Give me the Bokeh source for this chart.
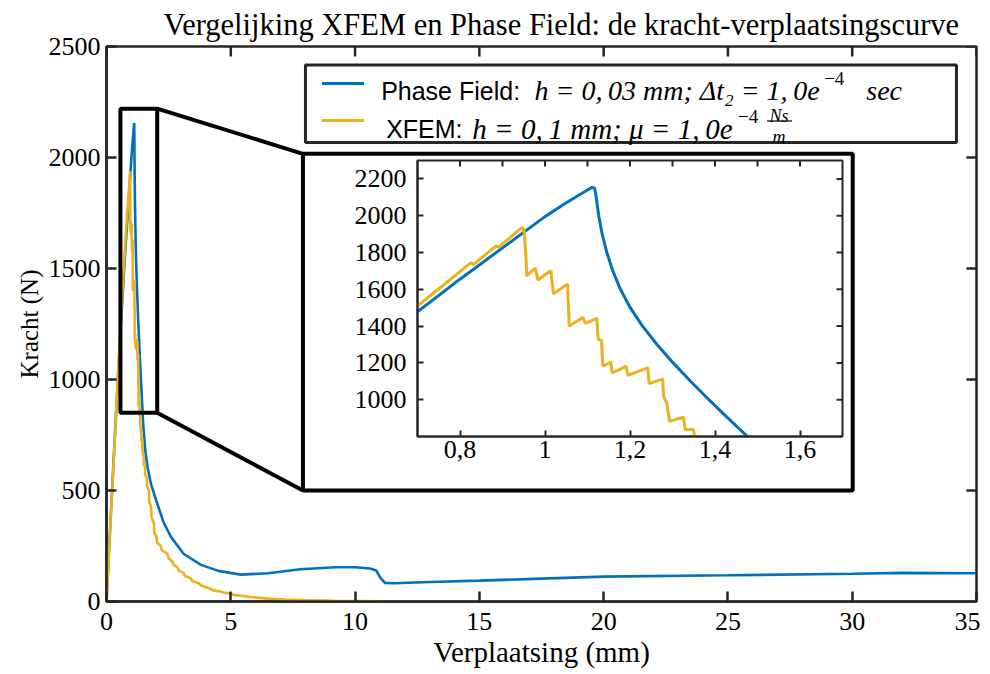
from bokeh.plotting import figure
from bokeh.models import Range1d, FixedTicker, Label, BoxAnnotation, Column
from bokeh.embed import file_html
from bokeh.resources import INLINE

# ---------------- data ----------------
pf_x = [0.0, 0.2, 0.4, 0.55, 0.7, 0.8, 0.9, 1.0, 1.05, 1.1, 1.112, 1.117, 1.1205, 1.1265,
        1.1345, 1.1455, 1.1595, 1.1775, 1.2005, 1.2295, 1.2635, 1.3015, 1.3425, 1.3855,
        1.4305, 1.4765, 1.55, 1.65, 1.8, 2.0, 2.3, 2.6, 3.1, 3.8, 4.5, 5.4, 6.5, 7.8, 9.2,
        10.0, 10.6, 10.85, 11.0, 11.2, 11.6, 13.0, 15.0, 17.5, 20.0, 25.0, 30.0, 32.0, 35.0]
pf_y = [0, 450, 880, 1190, 1478, 1655, 1825, 1995, 2070, 2140, 2155, 2148, 2100, 2000,
        1900, 1800, 1700, 1600, 1500, 1400, 1300, 1200, 1100, 1000,
        900, 800, 690, 605, 525, 455, 355, 290, 215, 165, 138, 121, 127, 145, 154,
        154, 149, 140, 110, 84, 82, 88, 94, 103, 112, 118, 125, 129, 127]

xf_x = [0.0, 0.2, 0.4, 0.55, 0.698, 0.826, 0.831, 0.885, 0.891, 0.947, 0.951, 0.955, 0.957,
        0.977, 0.983, 1.014, 1.016, 1.020, 1.053, 1.057, 1.089, 1.095, 1.122, 1.125, 1.133,
        1.136, 1.155, 1.158, 1.191, 1.195, 1.242, 1.245, 1.277, 1.279, 1.287, 1.293, 1.326,
        1.330, 1.349, 1.352, 1.40, 1.405, 1.44, 1.445, 1.50, 1.505, 1.55, 1.555, 1.62, 1.63,
        1.71, 1.72, 1.80, 1.81, 1.91, 1.92, 2.0, 2.05, 2.18, 2.22, 2.45, 2.5, 2.65, 2.7,
        2.85, 2.9, 3.1, 3.15, 3.39, 3.45, 3.7, 3.8, 4.19, 4.3, 4.6, 4.7, 5.0, 5.1, 5.8,
        6.5, 7.15, 8.0, 9.2, 11.0, 13.0, 35.0]
xf_y = [0, 440, 890, 1210, 1505, 1745, 1733, 1836, 1829, 1938, 1915, 1787, 1673,
        1715, 1651, 1702, 1651, 1575, 1629, 1400, 1447, 1415, 1442, 1327, 1324,
        1182, 1205, 1145, 1182, 1133, 1173, 1087, 1113, 1018, 978, 882, 905,
        836, 840, 800, 760, 720, 735, 680, 650, 610, 620, 570, 560, 520,
        500, 455, 420, 380, 350, 310, 295, 262, 250, 232, 215, 195, 180, 165,
        155, 140, 128, 115, 105, 92, 82, 72, 57, 50, 45, 40, 36, 30, 20,
        13, 9, 6, 3, 1, 0, 0]

main_x_ticks = [0, 5, 10, 15, 20, 25, 30, 35]
main_y_ticks = [0, 500, 1000, 1500, 2000, 2500]
inset_x_ticks = [0.8, 1, 1.2, 1.4, 1.6]
inset_x_labels = ["0,8", "1", "1,2", "1,4", "1,6"]
inset_x_top_ticks = [0.8, 0.9, 1, 1.1, 1.2, 1.3, 1.4, 1.5, 1.6]
inset_y_ticks = [1000, 1200, 1400, 1600, 1800, 2000, 2200]

main_xr = (0, 35)
main_yr = (0, 2500)
inset_xr = (0.7, 1.7)
inset_yr = (800, 2300)
zoom_x = (0.56, 2.04)
zoom_y = (850, 2220)

TITLE = "Vergelijking XFEM en Phase Field: de kracht-verplaatsingscurve"
LEG1_A = "Phase Field:"
LEG1_B = "h = 0,\u200903 mm; \u0394t\u2082 = 1,\u20090e"
LEG1_C = "sec"
LEG2_A = "XFEM:"
LEG2_B = "h = 0,\u20091 mm; \u03bc = 1,\u20090e"
SUP = "\u22124"
FRAC_NUM = "Ns"
FRAC_DEN = "m"

BLUE = "#0072BD"
YELLOW = "#EDB120"
AX = "#262626"
SERIF = "Liberation Serif"
SANS = "Liberation Sans"

# ---------------- main figure ----------------
FL, FT, FW, FH = 106, 46, 868, 555   # intended frame position/size on the page
FW_SET = 875                          # value handed to Bokeh (renders ~FW wide)
FB = 70
p = figure(x_range=Range1d(*main_xr), y_range=Range1d(*main_yr),
           frame_width=FW_SET, frame_height=FH,
           min_border_left=FL, min_border_right=4, min_border_top=FT, min_border_bottom=FB,
           output_backend="svg", toolbar_location=None, title=TITLE)
p.title.align = "left"
p.title.offset = 57
p.title.text_font = SERIF
p.title.text_font_size = "30.5px"
p.title.text_font_style = "normal"
p.title.text_color = "#000000"
p.title.standoff = 10
p.grid.visible = False
p.outline_line_color = AX
p.outline_line_width = 2.5
p.background_fill_color = "white"
p.border_fill_color = "white"
p.margin = (0, 0, 0, -5)


def style_axis(ax, ticks, size, tick_len, lw):
    ax.ticker = FixedTicker(ticks=ticks)
    ax.axis_line_color = AX
    ax.axis_line_width = lw
    ax.major_tick_line_color = AX
    ax.major_tick_line_width = lw
    ax.major_tick_in = tick_len
    ax.major_tick_out = 0
    ax.minor_tick_line_color = None
    ax.major_label_text_font = SERIF
    ax.major_label_text_color = "#000000"
    ax.major_label_text_font_size = size


style_axis(p.xaxis[0], main_x_ticks, "26px", 10, 2.5)
style_axis(p.yaxis[0], main_y_ticks, "26px", 10, 2.5)
p.xaxis.major_label_standoff = 11
p.yaxis.major_label_standoff = 6
p.xaxis.axis_label = "Verplaatsing (mm)"
p.yaxis.axis_label = "Kracht (N)"
p.xaxis.axis_label_text_font_size = "29px"
p.yaxis.axis_label_text_font_size = "25px"
for ax in (p.xaxis[0], p.yaxis[0]):
    ax.axis_label_text_font = SERIF
    ax.axis_label_text_font_style = "normal"
    ax.axis_label_text_color = "#000000"
p.xaxis.axis_label_standoff = 3
p.yaxis.axis_label_standoff = 3


def mirror_ticks(fig, xticks, yticks, xr, yr, fw, fh, tick_len, lw):
    # inward ticks on the top and right frame edges, from the same tick lists
    ly = tick_len * (yr[1] - yr[0]) / fh
    lx = tick_len * (xr[1] - xr[0]) / fw
    fig.segment(x0=xticks, y0=[yr[1]] * len(xticks), x1=xticks, y1=[yr[1] - ly] * len(xticks),
                line_color=AX, line_width=lw)
    fig.segment(x0=[xr[1]] * len(yticks), y0=yticks, x1=[xr[1] - lx] * len(yticks), y1=yticks,
                line_color=AX, line_width=lw)


mirror_ticks(p, main_x_ticks, main_y_ticks, main_xr, main_yr, FW, FH, 10, 2.5)

p.line(pf_x, pf_y, line_color=BLUE, line_width=2.6)
p.line(xf_x, xf_y, line_color=YELLOW, line_width=2.6)


# helpers converting reference pixel positions (decorations only) to data space
def px2x(px):
    return main_xr[0] + (px - FL) * (main_xr[1] - main_xr[0]) / FW


def px2y(py):
    return main_yr[0] + (FT + FH - py) * (main_yr[1] - main_yr[0]) / FH


# zoom rectangle and connector lines to the inset box
box_l, box_r, box_t, box_b = px2x(302), px2x(850.5), px2y(153.3), px2y(490)
p.segment(x0=[zoom_x[1], zoom_x[1]], y0=[zoom_y[1], zoom_y[0]],
          x1=[box_l, box_l], y1=[box_t, box_b], line_color="black", line_width=4)
p.add_layout(BoxAnnotation(left=zoom_x[0], right=zoom_x[1], bottom=zoom_y[0], top=zoom_y[1],
                           fill_alpha=0, line_color="black", line_alpha=1, line_width=4))
p.add_layout(BoxAnnotation(left=box_l, right=box_r, bottom=box_b, top=box_t,
                           fill_color="white", fill_alpha=1, line_color="black",
                           line_alpha=1, line_width=4))

# legend
p.add_layout(BoxAnnotation(left=px2x(304.5), right=px2x(954), bottom=px2y(142), top=px2y(64.5),
                           fill_color="white", fill_alpha=1, line_color=AX, line_alpha=1,
                           line_width=3))
p.segment(x0=[px2x(321), px2x(321)], y0=[px2y(83), px2y(120)],
          x1=[px2x(363), px2x(363)], y1=[px2y(83), px2y(120)],
          line_color=[BLUE, YELLOW], line_width=3, level="overlay")


def add_text(txt, xpx, ypx, font, size, style="normal", align="left"):
    p.add_layout(Label(x=px2x(xpx), y=px2y(ypx), text=txt, text_font=font,
                       text_font_size=size, text_font_style=style, text_align=align,
                       text_baseline="alphabetic", text_color="#000000"))


add_text(LEG1_A, 380, 90, SANS, "25px")
add_text(LEG1_B, 533, 90, SERIF, "28px", "italic")
add_text(SUP, 822, 78, SERIF, "19px")
add_text(LEG1_C, 864, 90, SERIF, "28px", "italic")
add_text(LEG2_A, 385, 128, SANS, "25px")
add_text(LEG2_B, 471, 128, SERIF, "29px", "italic")
add_text(SUP, 736, 116, SERIF, "19px")
add_text(FRAC_NUM, 777, 115, SERIF, "18px", "italic", "center")
add_text(FRAC_DEN, 777, 136, SERIF, "18px", "italic", "center")
p.segment(x0=[px2x(765)], y0=[px2y(120.5)], x1=[px2x(790)], y1=[px2y(120.5)],
          line_color="black", line_width=1.2, level="overlay")

# ---------------- inset figure ----------------
MAIN_H = FT + FH + FB
IL, IT, IW, IH = 111, 3, 425, 276
ins = figure(x_range=Range1d(*inset_xr), y_range=Range1d(*inset_yr),
             frame_width=IW, frame_height=IH,
             min_border_left=IL, min_border_right=6, min_border_top=IT, min_border_bottom=50,
             output_backend="svg", toolbar_location=None)
ins.grid.visible = False
ins.outline_line_color = AX
ins.outline_line_width = 2
ins.background_fill_color = "white"
ins.border_fill_color = "white"
style_axis(ins.xaxis[0], inset_x_ticks, "26px", 6, 2)
style_axis(ins.yaxis[0], inset_y_ticks, "26px", 6, 2)
ins.xaxis.major_label_overrides = dict(zip(inset_x_ticks, inset_x_labels))
ins.xaxis.major_label_standoff = 4
ins.yaxis.major_label_standoff = 11
mirror_ticks(ins, inset_x_top_ticks, inset_y_ticks, inset_xr, inset_yr, IW, IH, 6, 2)
ins.line(pf_x, pf_y, line_color=BLUE, line_width=3)
ins.line(xf_x, xf_y, line_color=YELLOW, line_width=3)
ins.margin = (157 - MAIN_H, 0, 0, 306)

layout = Column(children=[p, ins], spacing=0)
open("out.html", "w").write(file_html(layout, INLINE))
